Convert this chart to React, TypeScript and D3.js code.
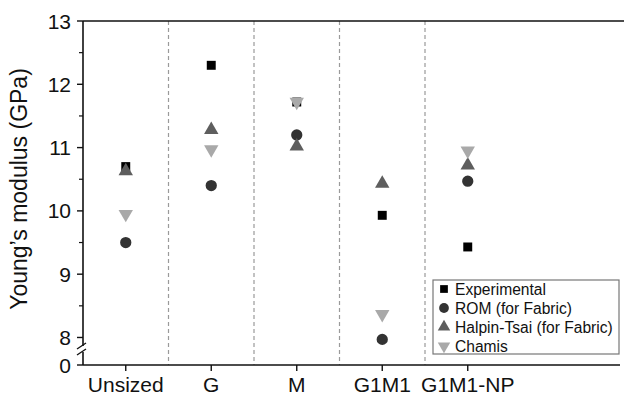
import { useEffect, useRef } from "react";
import * as d3 from "d3";

const categories = ["Unsized", "G", "M", "G1M1", "G1M1-NP"];
const experimental = [10.7, 12.3, 11.72, 9.93, 9.43];
const rom = [9.5, 10.4, 11.2, 7.97, 10.47];
const halpinTsai = [10.63, 11.28, 11.02, 10.43, 10.72];
const chamis = [9.95, 10.97, 11.72, 8.37, 10.95];
const yTicks = [0, 8, 9, 10, 11, 12, 13];
const yMinorTicks = [8.5, 9.5, 10.5, 11.5, 12.5];

const series = [
  { name: "Experimental", values: experimental, symbol: d3.symbolSquare, size: 80, color: "#000000", rotate: 0 },
  { name: "ROM (for Fabric)", values: rom, symbol: d3.symbolCircle, size: 100, color: "#333333", rotate: 0 },
  { name: "Halpin-Tsai (for Fabric)", values: halpinTsai, symbol: d3.symbolTriangle, size: 90, color: "#5e5e5e", rotate: 0 },
  { name: "Chamis", values: chamis, symbol: d3.symbolTriangle, size: 90, color: "#a9a9a9", rotate: 180 },
];

const W = 624;
const H = 402;

const App = () => {
  const ref = useRef<SVGSVGElement>(null);

  useEffect(() => {
    const svg = d3.select(ref.current);
    svg.selectAll("*").remove();

    const left = 83;
    const right = 620;
    const top = 21;
    const bottom = 365;
    const font = "'Liberation Sans', Arial, sans-serif";

    // broken axis: 0 sits just under the 7.75 break
    const y = d3.scaleLinear().domain([0, 7.75, 13]).range([bottom, 353.3, top]);
    const x = d3.scaleBand().domain(categories).range([left, left + 5 * 85.5]);

    const g = svg.append("g");

    // dashed separators
    categories.slice(1).forEach((c) => {
      g.append("line")
        .attr("x1", x(c)!)
        .attr("x2", x(c)!)
        .attr("y1", top)
        .attr("y2", bottom)
        .attr("stroke", "#9a9a9a")
        .attr("stroke-width", 1.2)
        .attr("stroke-dasharray", "4,3");
    });

    // top frame line
    g.append("line")
      .attr("x1", left).attr("x2", W)
      .attr("y1", top).attr("y2", top)
      .attr("stroke", "#111").attr("stroke-width", 1.6);

    // x axis line
    g.append("line")
      .attr("x1", left).attr("x2", right)
      .attr("y1", bottom).attr("y2", bottom)
      .attr("stroke", "#111").attr("stroke-width", 1.6);

    // y axis with gap for break
    const gapTop = 346;
    const gapBot = 352;
    g.append("line")
      .attr("x1", left).attr("x2", left)
      .attr("y1", top).attr("y2", gapTop)
      .attr("stroke", "#111").attr("stroke-width", 1.6);
    g.append("line")
      .attr("x1", left).attr("x2", left)
      .attr("y1", gapBot).attr("y2", bottom)
      .attr("stroke", "#111").attr("stroke-width", 1.6);
    [gapTop, gapBot].forEach((yy) => {
      g.append("line")
        .attr("x1", left - 6).attr("x2", left + 3)
        .attr("y1", yy + 3).attr("y2", yy - 3)
        .attr("stroke", "#111").attr("stroke-width", 1.4);
    });

    // y ticks
    yTicks.forEach((t) => {
      g.append("line")
        .attr("x1", left - 6).attr("x2", left)
        .attr("y1", y(t)).attr("y2", y(t))
        .attr("stroke", "#111").attr("stroke-width", 1.4);
      g.append("text")
        .attr("x", left - 12)
        .attr("y", y(t))
        .attr("dy", "0.36em")
        .attr("text-anchor", "end")
        .attr("font-family", font)
        .attr("font-size", 21)
        .attr("fill", "#111")
        .text(t);
    });
    yMinorTicks.forEach((t) => {
      g.append("line")
        .attr("x1", left - 4).attr("x2", left)
        .attr("y1", y(t)).attr("y2", y(t))
        .attr("stroke", "#111").attr("stroke-width", 1.2);
    });

    // x ticks
    categories.forEach((c) => {
      const cx = x(c)! + x.bandwidth() / 2;
      g.append("line")
        .attr("x1", cx).attr("x2", cx)
        .attr("y1", bottom).attr("y2", bottom + 6)
        .attr("stroke", "#111").attr("stroke-width", 1.4);
      g.append("text")
        .attr("x", cx)
        .attr("y", 392)
        .attr("text-anchor", "middle")
        .attr("font-family", font)
        .attr("font-size", 21)
        .attr("fill", "#111")
        .text(c);
    });

    // y title
    g.append("text")
      .attr("transform", `translate(27, 189) rotate(-90)`)
      .attr("text-anchor", "middle")
      .attr("font-family", font)
      .attr("font-size", 23)
      .attr("fill", "#111")
      .text("Young\u2019s modulus (GPa)");

    // points
    series.forEach((s) => {
      const sym = d3.symbol().type(s.symbol).size(s.size);
      g.selectAll(null)
        .data(s.values)
        .enter()
        .append("path")
        .attr("d", sym)
        .attr("fill", s.color)
        .attr(
          "transform",
          (d, i) =>
            `translate(${x(categories[i])! + x.bandwidth() / 2},${y(d)}) rotate(${s.rotate})`
        );
    });

    // legend
    const lg = g.append("g").attr("transform", "translate(433,280)");
    lg.append("rect")
      .attr("width", 186)
      .attr("height", 74)
      .attr("fill", "#fff")
      .attr("stroke", "#777")
      .attr("stroke-width", 1.2);
    series.forEach((s, i) => {
      const ly = 9 + i * 19;
      const sym = d3.symbol().type(s.symbol).size(s.size * 0.75);
      lg.append("path")
        .attr("d", sym)
        .attr("fill", s.color)
        .attr("transform", `translate(11,${ly}) rotate(${s.rotate})`);
      lg.append("text")
        .attr("x", 22)
        .attr("y", ly)
        .attr("dy", "0.36em")
        .attr("font-family", font)
        .attr("font-size", 15.6)
        .attr("fill", "#111")
        .text(s.name);
    });
  }, []);

  return (
    <svg
      ref={ref}
      width={W}
      height={H}
      style={{ position: "absolute", left: 0, top: 0, background: "#fff" }}
    ></svg>
  );
};

export default App;
